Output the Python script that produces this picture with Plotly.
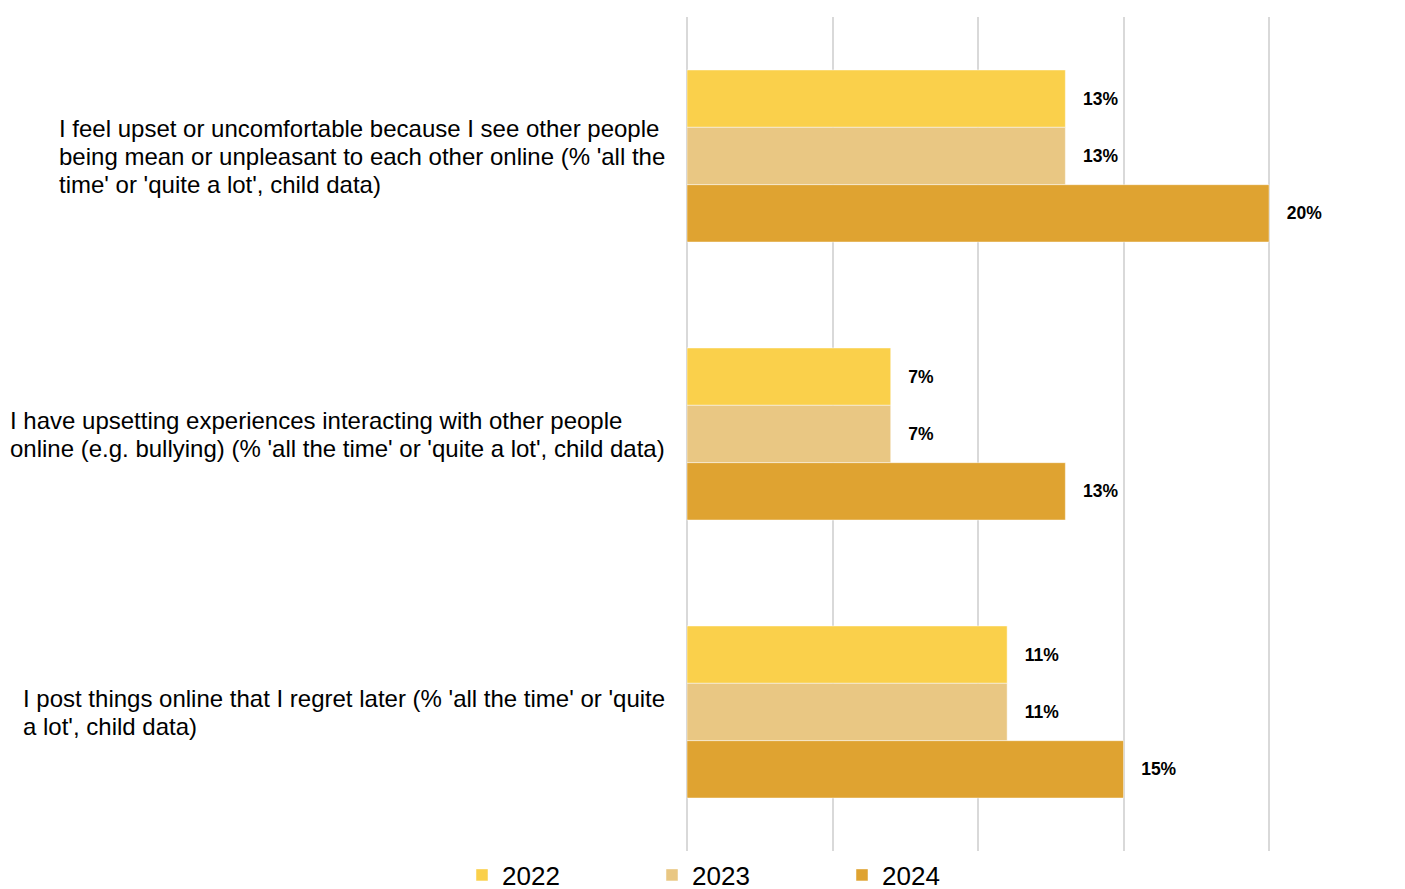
import plotly.graph_objects as go

category_lines = [
    ["I feel upset or uncomfortable because I see other people",
     "being mean or unpleasant to each other online (% 'all the",
     "time' or 'quite a lot', child data)"],
    ["I have upsetting experiences interacting with other people",
     "online (e.g. bullying) (% 'all the time' or 'quite a lot', child data)"],
    ["I post things online that I regret later (% 'all the time' or 'quite",
     "a lot', child data)"],
]
cat_keys = ["c1", "c2", "c3"]
years = ["2022", "2023", "2024"]
values = {
    "2022": [13, 7, 11],
    "2023": [13, 7, 11],
    "2024": [20, 13, 15],
}
colors = {"2022": "#FAD04B", "2023": "#E9C783", "2024": "#DFA331"}

FONT = "Liberation Sans, Arial, sans-serif"
W, H = 1397, 881

fig = go.Figure()
for yr in years:
    fig.add_trace(go.Bar(
        y=cat_keys,
        x=values[yr],
        name=yr,
        orientation="h",
        marker=dict(color=colors[yr], line=dict(color="rgba(255,255,255,0.6)", width=0.8)),
        text=["\u00a0\u00a0\u00a0" + f"{v}%" for v in values[yr]],
        textposition="outside",
        textfont=dict(family=FONT, size=17.5, color="#000000", weight="bold"),
        cliponaxis=False,
        constraintext="none",
    ))

for key, lines in zip(cat_keys, category_lines):
    label = "<br>".join(f"<span style='font-size:24px'>{ln}</span>" for ln in lines)
    fig.add_annotation(
        x=-20 / 585, xref="paper", y=key, yref="y",
        text=label, showarrow=False,
        xanchor="right", yanchor="middle", align="left",
        font=dict(family=FONT, size=21.5, color="#000000"),
    )

fig.update_layout(
    width=W, height=H,
    margin=dict(l=679, r=133, t=9, b=38, autoexpand=False),
    paper_bgcolor="white", plot_bgcolor="white",
    barmode="group", bargap=0.381, bargroupgap=0,
    showlegend=True,
    legend=dict(
        orientation="h", x=454 / W, xanchor="left", y=1 - 867 / H, yanchor="middle",
        xref="container", yref="container",
        font=dict(family=FONT, size=26, color="#000000"),
        entrywidth=145, itemwidth=30, traceorder="normal",
        bgcolor="rgba(0,0,0,0)",
    ),
    xaxis=dict(
        range=[0, 20.1], dtick=5, showticklabels=False,
        showgrid=True, gridcolor="#D9D9D9", gridwidth=2,
        zeroline=True, zerolinecolor="#D9D9D9", zerolinewidth=2,
        showline=False, fixedrange=True,
    ),
    yaxis=dict(
        categoryorder="array", categoryarray=cat_keys,
        autorange="reversed", showticklabels=False,
        showgrid=False, zeroline=False, showline=False,
    ),
    font=dict(family=FONT),
)

fig.write_html("out.html")
